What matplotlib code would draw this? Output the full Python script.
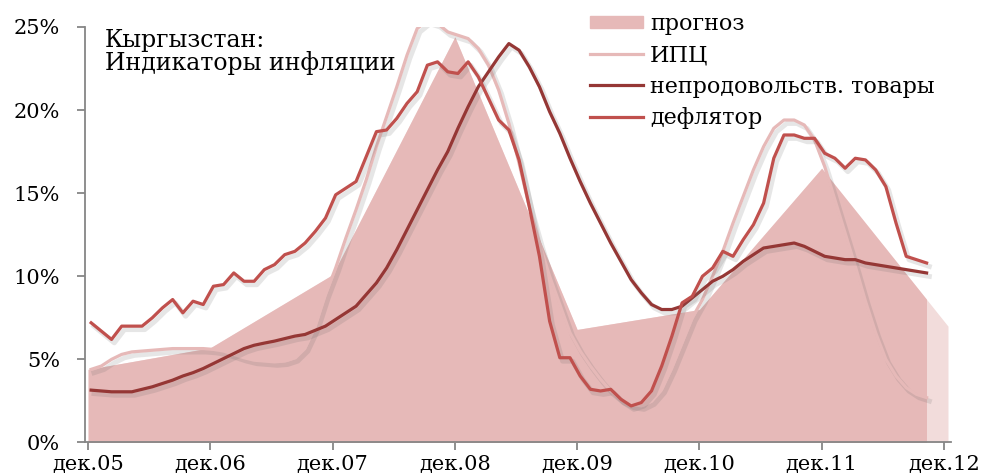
import matplotlib
matplotlib.use('Agg')
import matplotlib.pyplot as plt
import matplotlib.patheffects as pe
from matplotlib.patches import Patch, Rectangle
from matplotlib.ticker import FuncFormatter
import numpy as np

plt.rcParams['font.family'] = ['DejaVu Serif']

# месяцы с дек.05 (0) по дек.12 (84)
tick_pos = [0, 12, 24, 36, 48, 60, 72, 84]
tick_labels = ['дек.05', 'дек.06', 'дек.07', 'дек.08', 'дек.09', 'дек.10', 'дек.11', 'дек.12']

# прогноз (годовые точки), %
prognoz_x = [0, 12, 24, 36, 48, 60, 72, 84.4]
prognoz = [4.4, 5.7, 10.1, 24.4, 6.8, 8.0, 16.5, 7.0]
prognoz_split = 82.2  # дальше - светлая часть

# ежемесячные ряды, %
ipc = [4.4, 4.6, 5.0, 5.3, 5.45, 5.5, 5.55, 5.6, 5.65, 5.65, 5.65, 5.65,
       5.6, 5.5, 5.3, 5.1, 4.95, 4.9, 4.85, 4.9, 5.1, 5.7, 7.0, 8.9,
       10.5, 12.3, 14.0, 15.8, 17.8, 19.6, 21.4, 23.3, 24.9, 25.4, 25.2, 24.7,
       24.5, 24.3, 23.7, 22.7, 21.2, 19.2, 16.8, 14.2, 12.0, 10.0, 8.3, 6.6,
       5.5, 4.6, 3.8, 3.1, 2.6, 2.3, 2.2, 2.5, 3.2, 4.5, 6.0, 7.5,
       8.6, 10.0, 11.5, 13.2, 14.8, 16.4, 17.8, 18.9, 19.4, 19.4, 19.1, 18.2,
       16.6, 14.6, 12.6, 10.6, 8.5, 6.6, 5.0, 4.0, 3.3, 2.9, 2.7]
nonfood = [3.15, 3.1, 3.05, 3.05, 3.05, 3.2, 3.35, 3.55, 3.75, 4.0, 4.2, 4.45,
           4.75, 5.05, 5.35, 5.65, 5.85, 5.98, 6.1, 6.25, 6.4, 6.5, 6.75, 7.0,
           7.4, 7.8, 8.2, 8.9, 9.6, 10.5, 11.6, 12.8, 14.0, 15.2, 16.4, 17.5,
           18.9, 20.2, 21.4, 22.3, 23.2, 24.0, 23.6, 22.6, 21.4, 19.9, 18.6, 17.1,
           15.7, 14.4, 13.2, 12.0, 10.9, 9.8, 9.0, 8.3, 8.0, 8.0, 8.2, 8.7,
           9.2, 9.7, 10.0, 10.4, 10.9, 11.3, 11.7, 11.8, 11.9, 12.0, 11.8, 11.5,
           11.2, 11.1, 11.0, 11.0, 10.8, 10.7, 10.6, 10.5, 10.4, 10.3, 10.2]
deflator = [7.2, 6.7, 6.2, 7.0, 7.0, 7.0, 7.5, 8.1, 8.6, 7.8, 8.5, 8.3,
            9.4, 9.5, 10.2, 9.7, 9.7, 10.4, 10.7, 11.3, 11.5, 12.0, 12.7, 13.5,
            14.9, 15.3, 15.7, 17.2, 18.7, 18.8, 19.5, 20.4, 21.1, 22.7, 22.9, 22.3,
            22.2, 22.9, 22.0, 20.7, 19.4, 18.8, 17.0, 14.2, 11.2, 7.3, 5.1, 5.1,
            4.0, 3.2, 3.1, 3.2, 2.6, 2.2, 2.4, 3.1, 4.6, 6.4, 8.4, 8.8,
            10.0, 10.5, 11.5, 11.2, 12.2, 13.1, 14.4, 17.1, 18.5, 18.5, 18.3, 18.3,
            17.4, 17.1, 16.5, 17.1, 17.0, 16.4, 15.4, 13.2, 11.2, 11.0, 10.8]
months = np.arange(len(ipc)) + 0.3

fig = plt.figure(figsize=(9.83, 4.76), dpi=100)
ax = fig.add_axes([0.0865, 0.0704, 0.881, 0.873])

# прогноз: светлая заливка на всём отрезке, основная - до точки раздела
ax.fill_between(prognoz_x, prognoz, color='#F2DCDB', lw=0, zorder=1)
main = ax.fill_between(prognoz_x, prognoz, color='#E6B9B8', lw=0, zorder=2)
clip = Rectangle((-5, -1), prognoz_split + 5, 30, transform=ax.transData)
main.set_clip_path(clip)

shadow = [pe.SimpleLineShadow(offset=(2, -2.5), shadow_color='#666666', alpha=0.16, linewidth=3.5),
          pe.Normal()]
ax.plot(months, ipc, color='#E6B9B8', lw=2.3, zorder=3, path_effects=shadow)
ax.plot(months, nonfood, color='#953735', lw=2.3, zorder=4, path_effects=shadow)
ax.plot(months, deflator, color='#C0504D', lw=2.3, zorder=5, path_effects=shadow)

ax.set_xlim(-0.3, 84.7)
ax.set_ylim(0, 25)
ax.set_yticks([0, 5, 10, 15, 20, 25])
ax.yaxis.set_major_formatter(FuncFormatter(lambda v, p: f'{v:.0f}%'))
ax.set_xticks(tick_pos)
ax.set_xticklabels(tick_labels)
for s in ['top', 'right']:
    ax.spines[s].set_visible(False)
for s in ['left', 'bottom']:
    ax.spines[s].set_color('#868686')
    ax.spines[s].set_linewidth(1.3)
ax.tick_params(colors='#868686', labelcolor='black', labelsize=15, length=6, width=1.3)
ax.tick_params(axis='y', pad=12)
ax.tick_params(axis='x', pad=3)

fig.text(0.107, 0.94, 'Кыргызстан:\nИндикаторы инфляции', fontsize=17,
         va='top', ha='left', linespacing=0.95)

handles = [Patch(color='#E6B9B8'),
           plt.Line2D([], [], color='#E6B9B8', lw=2.3),
           plt.Line2D([], [], color='#953735', lw=2.3),
           plt.Line2D([], [], color='#C0504D', lw=2.3)]
labels = ['прогноз', 'ИПЦ', 'непродовольств. товары', 'дефлятор']
fig.legend(handles, labels, loc='upper left', bbox_to_anchor=(0.58, 1.015),
           frameon=False, fontsize=16, handlelength=2.4, handleheight=0.5,
           handletextpad=0.3, labelspacing=0.42)

fig.savefig('out.png', dpi=100)
